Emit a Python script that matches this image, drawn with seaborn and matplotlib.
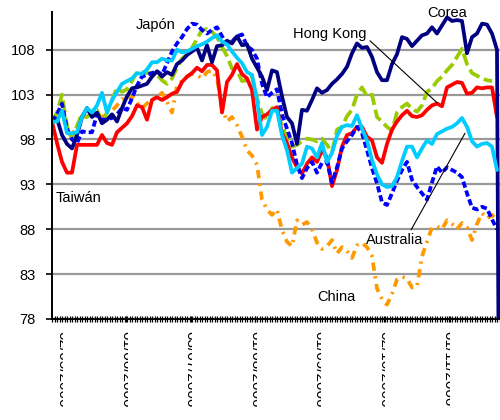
import numpy as np
import pandas as pd
import matplotlib
matplotlib.use("Agg")
import matplotlib.pyplot as plt
import seaborn as sns
from matplotlib.transforms import Bbox

sns.set_theme(style="white")
plt.rcParams["font.family"] = ["Liberation Sans", "DejaVu Sans"]
plt.rcParams["lines.scale_dashes"] = False

nan = np.nan

# Indices base 100, one value per trading session
corea = [100, 100.3, 98.5, 97.5, 97, 98.5, 100.5, 101.5, 100.5, 101, 99.8, 100.2, 100.8, 100, 101.5,
         102.8, 103.7, 103.8, 104, 104.2, 105, 105.6, 105, 105.5, 105.2, 106.4, 106.8, 107.4, 107.8, 108.2,
         106.8, 108.5, 106.6, 108.4, 108.5, 109, 108.7, 109.5, 108.5, 108.6, 107, 106, 105, 103.5, 105.7,
         105.5, 102.8, 100.5, 99.8, 97.5, 101.3, 101.2, 102.4, 103.7, 103.2, 103.5, 104.2, 104.7, 105.3, 106.1,
         107.6, 108.7, 108.2, 108.3, 107.2, 105.5, 104.6, 104.6, 106.4, 107.5, 109.4, 109.2, 108.4, 109, 109.6,
         109.8, 110.5, 109.8, 110.7, 111.6, 111.2, 111.3, 111.2, 107.6, 109.4, 109.8, 110.9, 110.8, 109.8, 108,
         0]
hong_kong = [100, 97.6, 95.5, 94.3, 94.3, 97.4, 97.4, 97.4, 97.4, 97.4, 98.5, 97.6, 97.4, 98.8, 99.3,
             99.8, 100.6, 101.8, 101.6, 100.2, 102.4, 102.7, 102.4, 102.7, 103.1, 103.3, 104.4, 105, 105.4, 106,
             105.6, 106.3, 106.3, 105.7, 101, 104.4, 105.2, 106.4, 105.3, 104.8, 103.5, 99.1, 100.5, 100.8, 101.3,
             101.6, 98.7, 97.6, 96, 94.9, 94.2, 95.3, 96, 95.5, 96.8, 96, 92.8, 94.6, 97.2, 98.5,
             98.7, 99.4, 99.4, 98.3, 97.9, 96, 95.4, 97.5, 99.1, 100, 100.7, 101.2, 100.6, 100.5, 100.7,
             101.3, 101.8, 102, 101.7, 103.8, 104.1, 104.4, 104.3, 103.1, 103.2, 103.8, 103.7, 103.8, 103.8, 100.5,
             nan]
taiwan = [100, 101, 103, 99.5, 98, 99.5, 100.9, 100.5, 101, 101.3, 100, 101, 102.4, 103.8, 103.3,
          103.6, 104.5, 105.5, 105.5, 105.4, 105.4, 105.2, 104.6, 104.2, 104.8, 106, 107, 107.5, 108.2, 109.2,
          110.2, 110.3, 110, 109.4, 108.3, 107.3, 105.9, 105.7, 104.5, 104.6, 105, 102.6, 100.9, 100.2, 101.5,
          101.3, 99.4, 98.3, 97.2, 97.4, 97.8, 98.1, 98, 97.8, 98.1, 97.4, 96.6, 99.1, 99.4, 100.6,
          101.3, 103, 103.8, 102.8, 103, 100.5, 100, 99.4, 99, 101, 101.6, 102, 101.4, 101.1, 101.8,
          103.3, 103.7, 104.5, 105, 105.7, 106.3, 107.2, 108.1, 106.4, 105.4, 105.1, 104.8, 104.6, 104.5, nan,
          nan]
australia = [100, 100, 101.2, 98.7, 98.7, 98.8, 100.5, 101.5, 101, 101.8, 103.2, 101, 102.4, 103.3, 104.2,
             104.5, 104.8, 105.4, 105.3, 105.8, 106.6, 106.6, 107, 106.8, 106.8, 108, 107.7, 107.8, 108.1, 108.4,
             108.6, 108.9, 109.3, 109.6, 108.9, 108.6, 107.8, 107.1, 106.5, 105.5, 105.2, 102.4, 98.5, 99.4, 101.2,
             101.2, 98.5, 96.8, 94.3, 94.8, 95.3, 97.2, 97, 96, 97.6, 95.5, 96.5, 98.4, 99.4, 99.6,
             99.5, 100.7, 99.2, 97.9, 95.7, 94.1, 93, 92.7, 92.8, 93.8, 95.6, 97.2, 97.2, 96, 97,
             97.9, 97.5, 98.6, 98.9, 99.2, 99.4, 99.8, 100.4, 99.4, 97.8, 97.2, 97.5, 97.6, 97.2, 94.6,
             nan]
japon = [100, 100.8, 102, 99.2, 98, 97.6, 98.9, 98.8, 98.8, 100.8, 100.2, 100.2, 100.4, 100.8, 101.5,
         101.3, 102.6, 104, 105, 105.2, 105.4, 105.6, 105.2, 106.5, 107.8, 108.7, 109.4, 110.3, 110.9, 110.8,
         110.2, 109.8, 110.2, 110.5, 109.5, 108.6, 108.9, 109.5, 109.7, 108.4, 108, 107, 104.2, 102.7, 103.2,
         103.6, 100.8, 99.2, 97.6, 95.2, 93.7, 94.8, 95.5, 94.3, 95.4, 95.5, 93.2, 94.9, 97, 97.8,
         98.5, 99.4, 98.7, 96.8, 94.8, 93.1, 91, 90.7, 92, 93.4, 94.6, 95.5, 93.5, 92.7, 92,
         91.3, 93.2, 95, 94.3, 94.9, 94.6, 94.3, 93.8, 92, 90.4, 90.2, 90.5, 90.3, 89.1, 88,
         nan]
china = [100, 100.5, 101.5, 99, 98.5, 99.5, 100.6, 100.5, 100.8, 100.8, 100.3, 101.4, 101.2, 101.8, 102.5,
         102.3, 102.9, 102.1, 101.5, 102, 102.5, 102.7, 103.2, 102.2, 101, 104, 104.5, 105, 105.3, 105.2,
         104.8, 105.5, 105.7, 104.8, 101.6, 100, 100.5, 99.6, 98.3, 96.8, 96.2, 95.2, 91.3, 90.2, 89.6,
         90.2, 87.9, 86.6, 86.1, 89, 88.5, 88.8, 88, 86.5, 85.8, 86.1, 86.8, 85.3, 86, 85.6,
         84.8, 86.2, 86.5, 86, 85, 81.4, 80.2, 79.6, 80.8, 82.4, 82.7, 82.5, 81.5, 81.6, 85,
         86.6, 88.2, 88.3, 88, 89, 88.6, 88, 88.7, 88.2, 86.8, 88.6, 89.8, 89.2, 89.6, 89,
         nan]

date_labels = ["02/05/2006", "01/06/2006", "03/07/2006", "01/08/2006",
               "01/09/2006", "02/10/2006", "01/11/2006"]
y_ticks = [78, 83, 88, 93, 98, 103, 108]

session = np.arange(len(corea))
df = pd.DataFrame({"session": session, "China": china, "Taiwán": taiwan,
                   "Hong Kong": hong_kong, "Japón": japon, "Corea": corea,
                   "Australia": australia})

styles = {
    "China": dict(color="#ff9900", linestyle=(0, (6, 4, 1.6, 4))),
    "Taiwán": dict(color="#99cc00", linestyle=(0, (9, 3.5))),
    "Hong Kong": dict(color="#ff0000", linestyle="-"),
    "Japón": dict(color="#0000ff", linestyle=(0, (4.5, 2.2))),
    "Corea": dict(color="#000080", linestyle="-"),
    "Australia": dict(color="#00ccff", linestyle="-"),
}

fig = plt.figure(figsize=(5, 4.2), dpi=100)
ax = fig.add_axes([52 / 500, 101 / 420, 448 / 500, 307 / 420])

for name, st in styles.items():
    sns.lineplot(data=df, x="session", y=name, ax=ax, linewidth=2.7,
                 legend=False, **st)

ax.set_xlim(0, 89.6)
ax.set_ylim(78, 112.2)
ax.set_yticks(y_ticks)
ax.set_yticklabels([str(v) for v in y_ticks], fontsize=10.5, color="black")
for v in y_ticks[1:]:
    ax.axhline(v, color="#999999", linewidth=1.6, zorder=0)

ax.set_xticks(np.linspace(2, 79.3, 7))
ax.set_xticklabels(date_labels, rotation=-90, fontsize=11, color="black",
                   va="top", ha="center")
ax.set_xticks(np.arange(0, 90, 0.5), minor=True)
ax.set_xlabel("")
ax.set_ylabel("")

for side in ["top", "right"]:
    ax.spines[side].set_visible(False)
for side in ["left", "bottom"]:
    ax.spines[side].set_color("black")
    ax.spines[side].set_linewidth(1.4)

ax.tick_params(axis="y", which="major", direction="out", length=4, width=1.2,
               color="black", pad=8, left=True)
ax.tick_params(axis="x", which="both", direction="inout", length=5, width=0.9,
               color="black", pad=6, bottom=True)

txt = dict(fontsize=10.5, color="black")
ax.text(20.8, 110.7, "Japón", ha="center", va="center", **txt)
ax.text(79, 112.1, "Corea", ha="center", va="center", clip_on=False, **txt)
ax.text(5.2, 91.5, "Taiwán", ha="center", va="center", **txt)
ax.text(56.8, 80.4, "China", ha="center", va="center", **txt)
ax.annotate("Hong Kong", xy=(77, 102.1), xytext=(55.6, 109.8),
            ha="center", va="center",
            arrowprops=dict(arrowstyle="-", color="black", lw=0.8,
                            shrinkA=0, shrinkB=0, relpos=(1.0, 0.2)), **txt)
ax.annotate("Australia", xy=(82.6, 98.7), xytext=(68.6, 86.8),
            ha="center", va="center",
            arrowprops=dict(arrowstyle="-", color="black", lw=0.8,
                            shrinkA=0, shrinkB=0, relpos=(0.75, 1.0)), **txt)

# Date labels are narrower than their text: only part of each stays visible
fig.canvas.draw()
renderer = fig.canvas.get_renderer()
for lbl in ax.get_xticklabels():
    bb = lbl.get_window_extent(renderer)
    keep = bb.x0 + 0.6 * (bb.x1 - bb.x0)
    lbl.set_clip_box(Bbox.from_extents(bb.x0 - 1, bb.y0 - 200, keep, bb.y1 + 1))
    lbl.set_clip_on(True)

fig.savefig("out.png", dpi=100, facecolor="white")
